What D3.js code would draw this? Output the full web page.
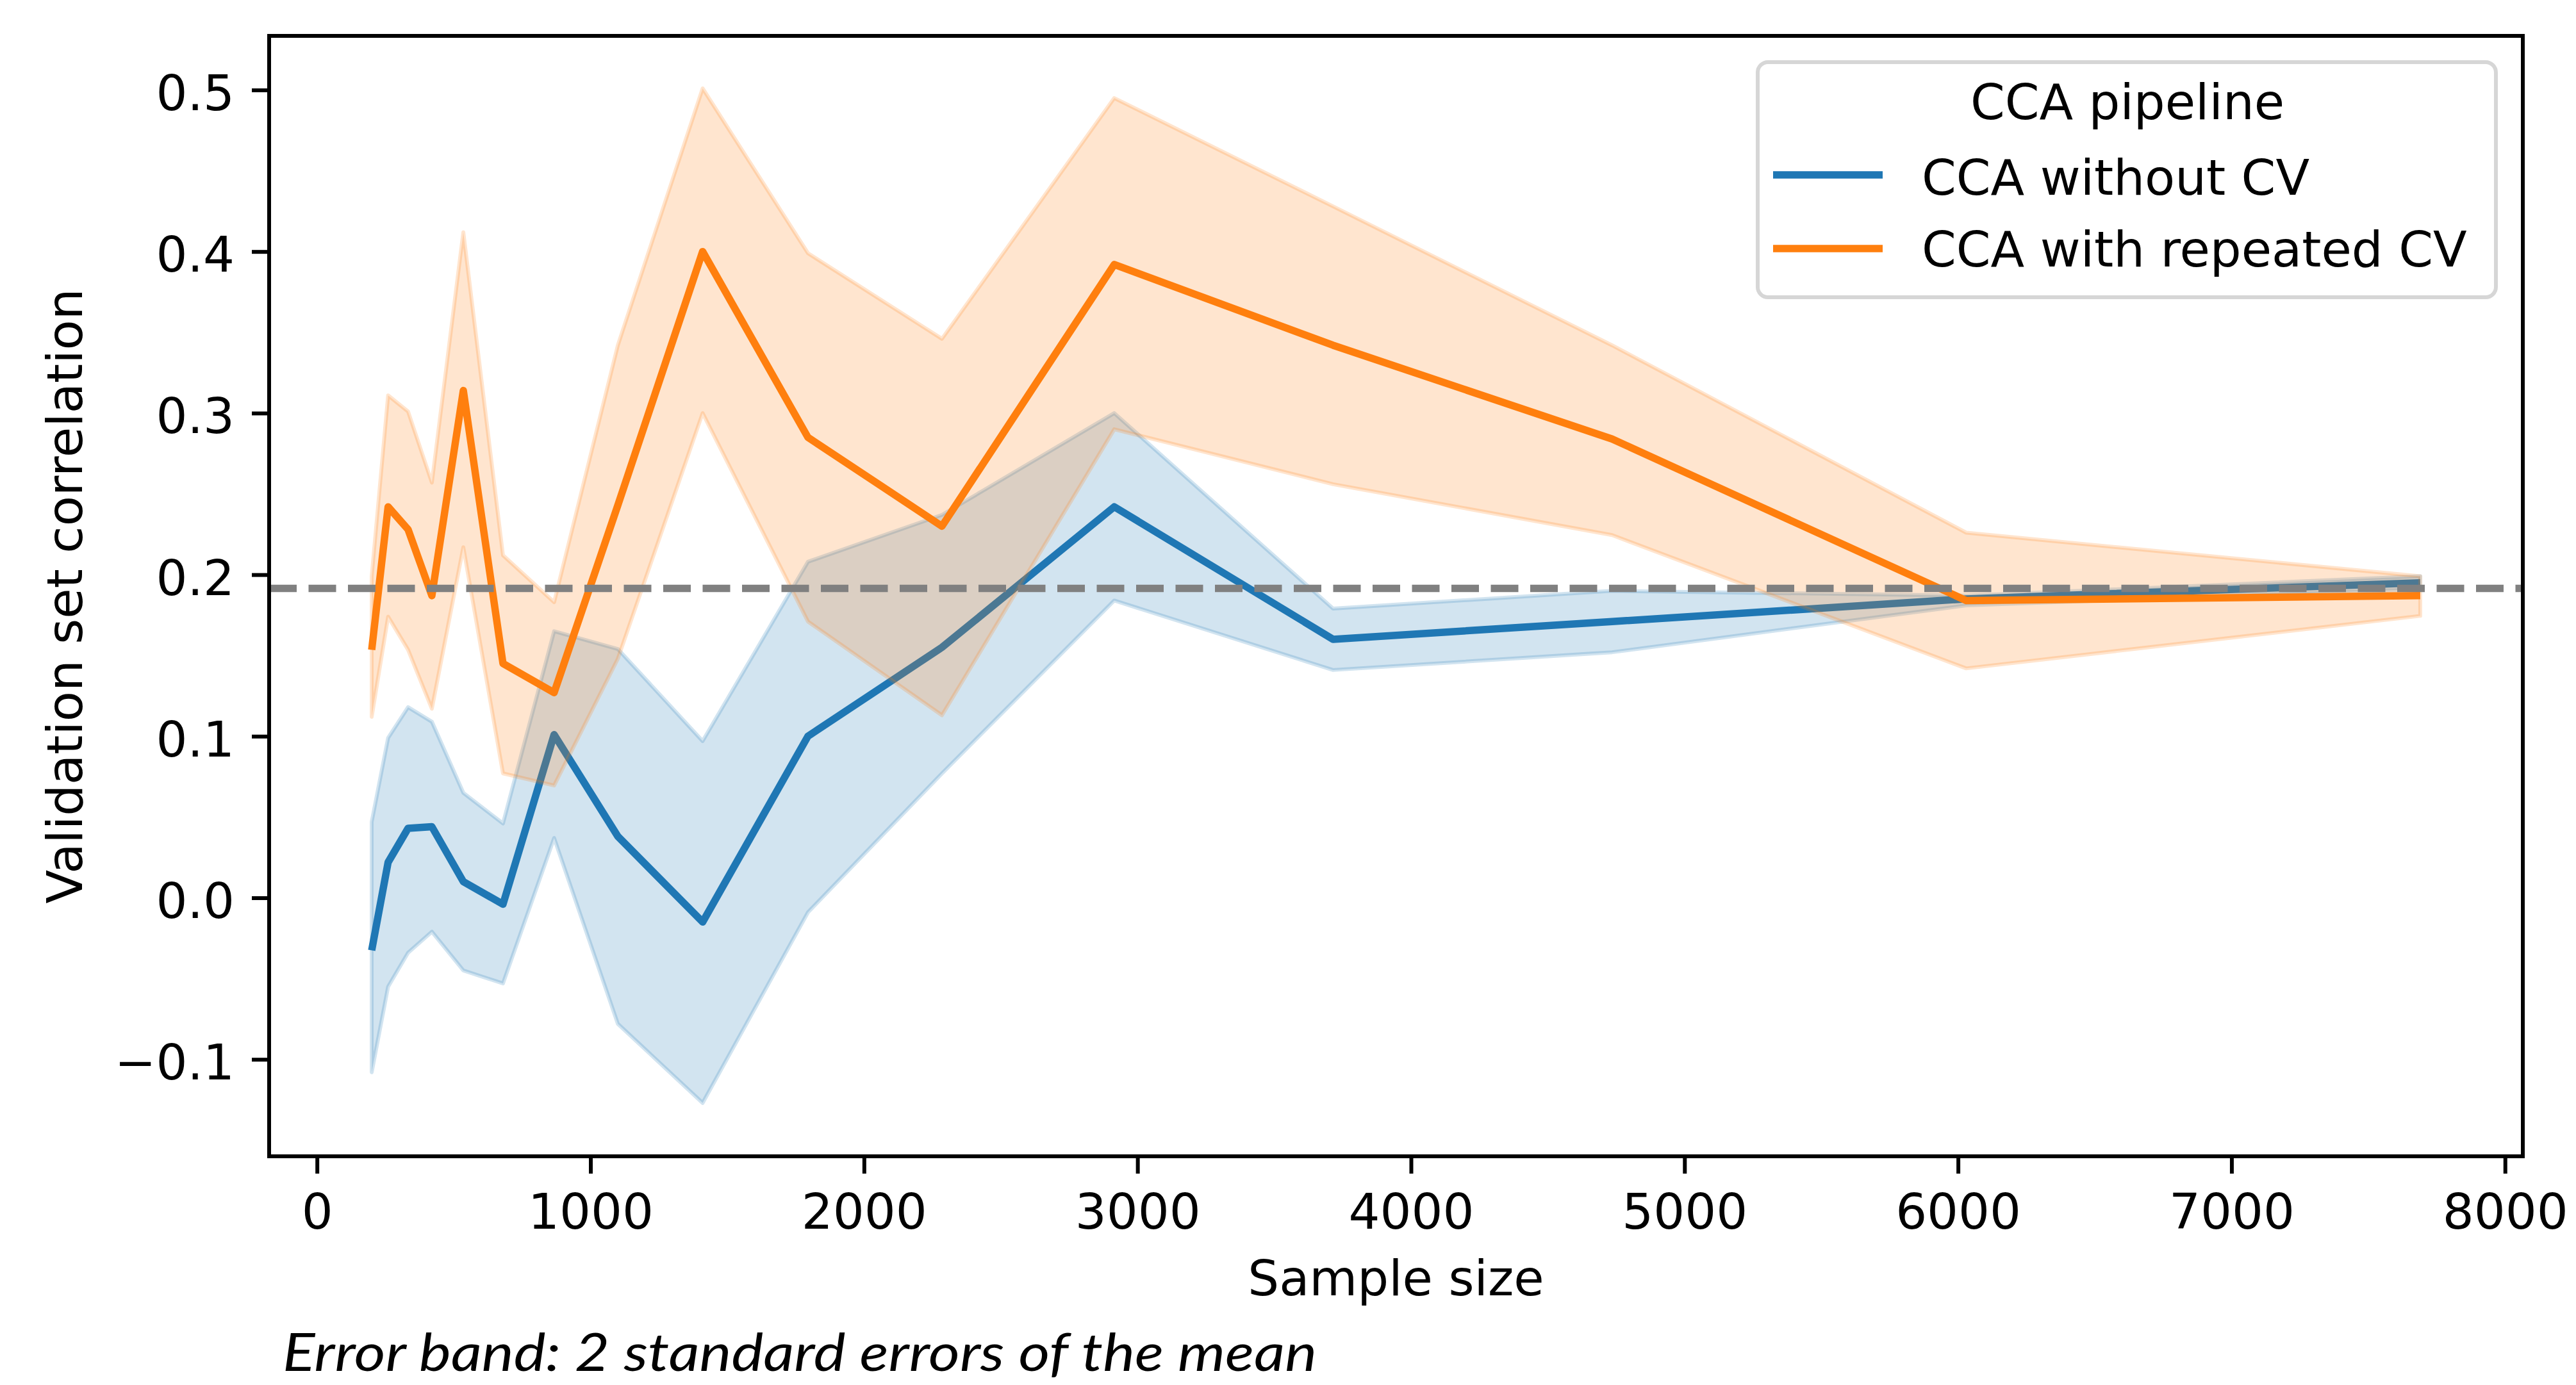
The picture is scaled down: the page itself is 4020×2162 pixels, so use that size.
<!DOCTYPE html>
<html>
<head>
<meta charset="utf-8">
<script src="https://cdn.jsdelivr.net/npm/d3@7"></script>
<style>
  html, body { margin: 0; padding: 0; background: #fff; }
  svg { display: block; }
</style>
</head>
<body>
<svg id="chart" width="4020" height="2162"></svg>
<script>
// ---- data ----
const sampleSizes = [200, 260, 333, 420, 535, 680, 867, 1100, 1410, 1795, 2285, 2915, 3715, 4735, 6030, 7690];

const noCvMean  = [-0.0325, 0.022, 0.043, 0.044, 0.010, -0.004, 0.101, 0.038, -0.015, 0.100, 0.155, 0.242, 0.160, 0.171, 0.185, 0.195];
const noCvUpper = [0.047, 0.099, 0.118, 0.109, 0.065, 0.046, 0.165, 0.154, 0.097, 0.208, 0.237, 0.300, 0.179, 0.190, 0.187, 0.199];
const noCvLower = [-0.108, -0.055, -0.034, -0.021, -0.045, -0.053, 0.037, -0.078, -0.127, -0.009, 0.077, 0.184, 0.141, 0.152, 0.181, 0.191];

const cvMean  = [0.1535, 0.242, 0.228, 0.187, 0.314, 0.145, 0.127, 0.243, 0.400, 0.285, 0.230, 0.392, 0.342, 0.284, 0.184, 0.187];
const cvUpper = [0.199, 0.311, 0.301, 0.257, 0.412, 0.212, 0.183, 0.342, 0.501, 0.399, 0.346, 0.495, 0.428, 0.342, 0.226, 0.199];
const cvLower = [0.112, 0.174, 0.1535, 0.117, 0.217, 0.077, 0.0695, 0.148, 0.300, 0.171, 0.113, 0.290, 0.256, 0.2245, 0.142, 0.1745];

const baseline = 0.1915;

const xTicks = [0, 1000, 2000, 3000, 4000, 5000, 6000, 7000, 8000];
const yTicks = [-0.1, 0.0, 0.1, 0.2, 0.3, 0.4, 0.5];

const seriesNames = ["CCA without CV", "CCA with repeated CV"];
const seriesColors = ["#1f77b4", "#ff7f0e"];
const legendTitle = "CCA pipeline";
const xLabel = "Sample size";
const yLabel = "Validation set correlation";
const footnote = "Error band: 2 standard errors of the mean";

// ---- layout ----
const L = 420, R = 3937, T = 56, B = 1805;
const FONT = "DejaVu Sans, Verdana, sans-serif";
const FS = 77;

const svg = d3.select("#chart");
const x = d3.scaleLinear().domain([-175, 8065]).range([L, R]);
const y = d3.scaleLinear().domain([-0.1600, 0.5335]).range([B, T]);

const series = [
  { name: seriesNames[0], color: seriesColors[0], mean: noCvMean, lo: noCvLower, hi: noCvUpper },
  { name: seriesNames[1], color: seriesColors[1], mean: cvMean, lo: cvLower, hi: cvUpper }
];

const plot = svg.append("g");
plot.append("clipPath").attr("id", "clip")
  .append("rect").attr("x", L).attr("y", T).attr("width", R - L).attr("height", B - T);
const inner = plot.append("g").attr("clip-path", "url(#clip)");

const area = d3.area()
  .x((d, i) => x(sampleSizes[i]))
  .y0(d => y(d[0]))
  .y1(d => y(d[1]));
const line = d3.line()
  .x((d, i) => x(sampleSizes[i]))
  .y(d => y(d));

series.forEach(s => {
  const pts = s.lo.map((v, i) => [v, s.hi[i]]);
  inner.append("path")
    .attr("d", area(pts))
    .attr("fill", s.color).attr("fill-opacity", 0.2)
    .attr("stroke", s.color).attr("stroke-opacity", 0.2)
    .attr("stroke-width", 6).attr("stroke-linejoin", "round");
  inner.append("path")
    .attr("d", line(s.mean))
    .attr("fill", "none").attr("stroke", s.color)
    .attr("stroke-width", 11.5).attr("stroke-linejoin", "round").attr("stroke-linecap", "butt");
});

// dashed horizontal reference
inner.append("line")
  .attr("x1", L).attr("x2", R)
  .attr("y1", y(baseline)).attr("y2", y(baseline))
  .attr("stroke", "#808080").attr("stroke-width", 11.5)
  .attr("stroke-dasharray", "43 18.5");

// axes
const xAxis = d3.axisBottom(x).tickValues(xTicks).tickFormat(d3.format("d")).tickSize(27).tickPadding(27);
const yAxis = d3.axisLeft(y).tickValues(yTicks).tickFormat(d3.format(".1f")).tickSize(27).tickPadding(27);

const gx = svg.append("g").attr("transform", `translate(0,${B})`).call(xAxis);
gx.select(".domain").remove();
gx.selectAll(".tick line").attr("stroke", "#000").attr("stroke-width", 6);
gx.selectAll(".tick text").attr("font-family", FONT).attr("font-size", FS).attr("fill", "#000")
  .attr("dy", null).attr("y", 113);

const gy = svg.append("g").attr("transform", `translate(${L},0)`).call(yAxis);
gy.select(".domain").remove();
gy.selectAll(".tick line").attr("stroke", "#000").attr("stroke-width", 6);
gy.selectAll(".tick text").attr("font-family", FONT).attr("font-size", FS).attr("fill", "#000")
  .attr("dy", null).attr("y", 31).attr("x", -54);

// frame
svg.append("rect").attr("x", L).attr("y", T).attr("width", R - L).attr("height", B - T)
  .attr("fill", "none").attr("stroke", "#000").attr("stroke-width", 6);

// axis labels
svg.append("text").attr("x", (L + R) / 2).attr("y", 2022)
  .attr("text-anchor", "middle").attr("font-family", FONT).attr("font-size", FS)
  .text(xLabel);
svg.append("text").attr("transform", `translate(128,${(T + B) / 2}) rotate(-90)`)
  .attr("text-anchor", "middle").attr("font-family", FONT).attr("font-size", FS)
  .text(yLabel);

// legend
const lg = svg.append("g");
lg.append("rect").attr("x", 2743).attr("y", 97).attr("width", 3895 - 2743).attr("height", 464 - 97)
  .attr("rx", 16).attr("ry", 16)
  .attr("fill", "#fff").attr("fill-opacity", 0.8)
  .attr("stroke", "#d6d6d6").attr("stroke-width", 6);
lg.append("text").attr("x", 3320).attr("y", 186)
  .attr("text-anchor", "middle").attr("font-family", FONT).attr("font-size", FS)
  .text(legendTitle);
const entryY = [273, 388];
const entryBase = [304, 416];
series.forEach((s, i) => {
  lg.append("line").attr("x1", 2767).attr("x2", 2938)
    .attr("y1", entryY[i]).attr("y2", entryY[i])
    .attr("stroke", s.color).attr("stroke-width", 11.5);
  lg.append("text").attr("x", 2999).attr("y", entryBase[i])
    .attr("font-family", FONT).attr("font-size", FS)
    .text(s.name);
});

// footnote
svg.append("text").attr("x", 441).attr("y", 2140)
  .attr("font-family", "Lato, 'Open Sans', sans-serif").attr("font-style", "italic")
  .attr("font-size", 82)
  .attr("textLength", 1614).attr("lengthAdjust", "spacingAndGlyphs")
  .text(footnote);
</script>
</body>
</html>
